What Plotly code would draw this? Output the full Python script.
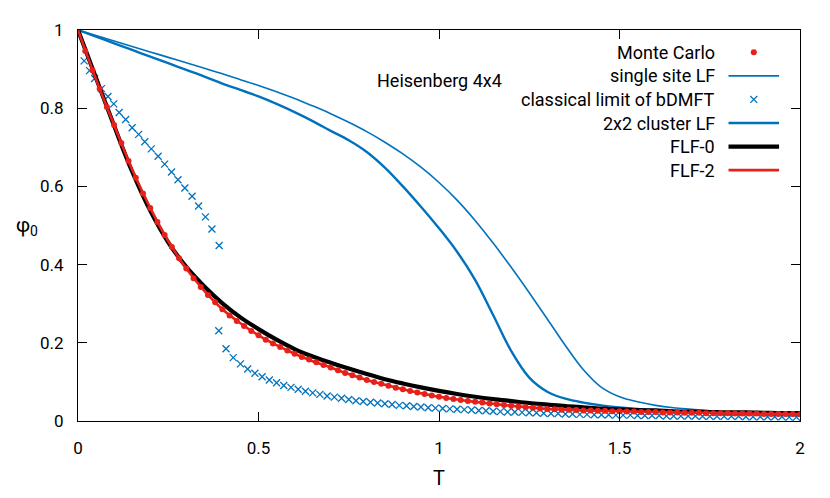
import plotly.graph_objects as go

# Monte Carlo data
T_mc = [0.02, 0.04, 0.06, 0.08, 0.10, 0.12, 0.14, 0.16, 0.18, 0.20,
        0.22, 0.24, 0.26, 0.28, 0.30, 0.32, 0.34, 0.36, 0.38, 0.40,
        0.42, 0.44, 0.46, 0.48, 0.50, 0.52, 0.54, 0.56, 0.58, 0.60,
        0.62, 0.64, 0.66, 0.68, 0.70, 0.72, 0.74, 0.76, 0.78, 0.80,
        0.82, 0.84, 0.86, 0.88, 0.90, 0.92, 0.94, 0.96, 0.98, 1.00,
        1.02, 1.04, 1.06, 1.08, 1.10, 1.12, 1.14, 1.16, 1.18, 1.20,
        1.22, 1.24, 1.26, 1.28, 1.30, 1.32, 1.34, 1.36, 1.38, 1.40,
        1.42, 1.44, 1.46, 1.48, 1.50, 1.52, 1.54, 1.56, 1.58, 1.60,
        1.62, 1.64, 1.66, 1.68, 1.70, 1.72, 1.74, 1.76, 1.78, 1.80,
        1.82, 1.84, 1.86, 1.88, 1.90, 1.92, 1.94, 1.96, 1.98, 2.00]
phi_mc = [0.946, 0.897, 0.850, 0.803, 0.757, 0.711, 0.665, 0.622, 0.582, 0.545,
          0.509, 0.476, 0.445, 0.416, 0.390, 0.365, 0.343, 0.322, 0.304, 0.286,
          0.270, 0.256, 0.243, 0.230, 0.219, 0.208, 0.198, 0.189, 0.180, 0.172,
          0.164, 0.157, 0.150, 0.143, 0.137, 0.130, 0.123, 0.117, 0.111, 0.105,
          0.100, 0.095, 0.090, 0.085, 0.081, 0.077, 0.073, 0.069, 0.065, 0.062,
          0.059, 0.056, 0.054, 0.051, 0.049, 0.047, 0.045, 0.043, 0.041, 0.039,
          0.037, 0.035, 0.034, 0.032, 0.031, 0.030, 0.029, 0.029, 0.028, 0.027,
          0.027, 0.026, 0.026, 0.025, 0.025, 0.024, 0.024, 0.023, 0.023, 0.023,
          0.022, 0.022, 0.022, 0.021, 0.021, 0.021, 0.020, 0.020, 0.020, 0.020,
          0.019, 0.019, 0.019, 0.019, 0.018, 0.018, 0.018, 0.018, 0.018, 0.017]

# common T grid for the model curves
T_line = [0.00, 0.05, 0.10, 0.15, 0.20, 0.25, 0.30, 0.35, 0.40, 0.45,
          0.50, 0.55, 0.60, 0.65, 0.70, 0.75, 0.80, 0.85, 0.90, 0.95,
          1.00, 1.05, 1.10, 1.15, 1.20, 1.25, 1.30, 1.35, 1.40, 1.45,
          1.50, 1.55, 1.60, 1.65, 1.70, 1.75, 1.80, 1.85, 1.90, 1.95, 2.00]

# single site LF
phi_ss = [1.000, 0.986, 0.972, 0.958, 0.944, 0.930, 0.916, 0.902, 0.888, 0.873,
          0.858, 0.842, 0.825, 0.806, 0.786, 0.764, 0.740, 0.713, 0.683, 0.649,
          0.610, 0.565, 0.513, 0.455, 0.393, 0.328, 0.261, 0.193, 0.131, 0.086,
          0.062, 0.049, 0.040, 0.034, 0.030, 0.026, 0.023, 0.021, 0.019, 0.017, 0.016]

# 2x2 cluster LF
phi_cl = [1.000, 0.983, 0.966, 0.949, 0.932, 0.915, 0.898, 0.881, 0.863, 0.847,
          0.830, 0.811, 0.790, 0.767, 0.742, 0.718, 0.688, 0.648, 0.600, 0.548,
          0.493, 0.433, 0.361, 0.271, 0.179, 0.111, 0.075, 0.057, 0.047, 0.040,
          0.035, 0.031, 0.028, 0.025, 0.023, 0.021, 0.019, 0.018, 0.016, 0.015, 0.014]

# FLF-0
phi_f0 = [1.000, 0.877, 0.755, 0.638, 0.538, 0.457, 0.394, 0.344, 0.301, 0.265,
          0.235, 0.208, 0.184, 0.165, 0.149, 0.134, 0.120, 0.107, 0.096, 0.086,
          0.077, 0.069, 0.062, 0.056, 0.051, 0.046, 0.042, 0.038, 0.035, 0.032,
          0.030, 0.028, 0.027, 0.025, 0.024, 0.023, 0.022, 0.022, 0.021, 0.020, 0.020]

# FLF-2
phi_f2 = [1.000, 0.874, 0.757, 0.643, 0.545, 0.460, 0.390, 0.333, 0.286, 0.250,
          0.219, 0.194, 0.172, 0.153, 0.137, 0.120, 0.105, 0.093, 0.081, 0.071,
          0.062, 0.055, 0.049, 0.044, 0.039, 0.035, 0.031, 0.029, 0.027, 0.026,
          0.025, 0.024, 0.023, 0.022, 0.021, 0.021, 0.020, 0.019, 0.018, 0.018, 0.017]

# classical limit of bDMFT (two branches)
T_bd_hi = [0.017, 0.032, 0.046, 0.065, 0.083, 0.099, 0.114, 0.132, 0.150, 0.168, 0.185,
           0.203, 0.222, 0.240, 0.259, 0.277, 0.296, 0.316, 0.334, 0.353, 0.371, 0.391]
phi_bd_hi = [0.921, 0.896, 0.876, 0.850, 0.830, 0.811, 0.789, 0.771, 0.750, 0.733, 0.714,
             0.696, 0.677, 0.657, 0.637, 0.617, 0.596, 0.575, 0.550, 0.522, 0.491, 0.449]
T_bd_lo = [0.39, 0.41, 0.43, 0.45, 0.47, 0.49, 0.51, 0.53, 0.55, 0.57,
           0.59, 0.61, 0.63, 0.65, 0.67, 0.69, 0.71, 0.73, 0.75, 0.77,
           0.79, 0.81, 0.83, 0.85, 0.87, 0.89, 0.91, 0.93, 0.95, 0.97,
           0.99, 1.01, 1.03, 1.05, 1.07, 1.09, 1.11, 1.13, 1.15, 1.17,
           1.19, 1.21, 1.23, 1.25, 1.27, 1.29, 1.31, 1.33, 1.35, 1.37,
           1.39, 1.41, 1.43, 1.45, 1.47, 1.49, 1.51, 1.53, 1.55, 1.57,
           1.59, 1.61, 1.63, 1.65, 1.67, 1.69, 1.71, 1.73, 1.75, 1.77,
           1.79, 1.81, 1.83, 1.85, 1.87, 1.89, 1.91, 1.93, 1.95, 1.97, 1.99]
phi_bd_lo = [0.231, 0.185, 0.162, 0.146, 0.133, 0.122, 0.113, 0.105, 0.098, 0.091,
             0.086, 0.081, 0.076, 0.072, 0.068, 0.064, 0.061, 0.058, 0.055, 0.052,
             0.050, 0.048, 0.046, 0.044, 0.042, 0.040, 0.039, 0.037, 0.036, 0.034,
             0.033, 0.032, 0.031, 0.030, 0.029, 0.028, 0.027, 0.026, 0.025, 0.024,
             0.023, 0.023, 0.022, 0.021, 0.021, 0.020, 0.019, 0.019, 0.018, 0.018,
             0.017, 0.017, 0.016, 0.016, 0.016, 0.015, 0.015, 0.015, 0.014, 0.014,
             0.014, 0.014, 0.013, 0.013, 0.013, 0.013, 0.013, 0.012, 0.012, 0.012,
             0.012, 0.012, 0.012, 0.011, 0.011, 0.011, 0.011, 0.011, 0.011, 0.010, 0.010]

x_ticks = [0, 0.5, 1, 1.5, 2]
x_ticklabels = ["0", "0.5", "1", "1.5", "2"]
y_ticks = [0, 0.2, 0.4, 0.6, 0.8, 1]
y_ticklabels = ["0", "0.2", "0.4", "0.6", "0.8", "1"]

BLUE = "#0072bd"
RED = "#e8201a"
FONT = "Roboto, 'Noto Sans', sans-serif"
TXT = 18

fig = go.Figure()
fig.add_trace(go.Scatter(x=T_line, y=phi_ss, mode="lines",
                         line=dict(color=BLUE, width=1.6, shape="spline", smoothing=1)))
fig.add_trace(go.Scatter(x=T_bd_hi + T_bd_lo, y=phi_bd_hi + phi_bd_lo, mode="markers",
                         marker=dict(symbol="x-thin", size=7, line=dict(color=BLUE, width=1.3))))
fig.add_trace(go.Scatter(x=T_line, y=phi_cl, mode="lines",
                         line=dict(color=BLUE, width=2.4, shape="spline", smoothing=1)))
fig.add_trace(go.Scatter(x=T_line, y=phi_f0, mode="lines",
                         line=dict(color="black", width=4.2, shape="spline", smoothing=1)))
fig.add_trace(go.Scatter(x=T_line, y=phi_f2, mode="lines",
                         line=dict(color=RED, width=2.6, shape="spline", smoothing=1)))
fig.add_trace(go.Scatter(x=T_mc, y=phi_mc, mode="markers", marker=dict(color=RED, size=6, line=dict(width=0))))

# gnuplot-style key: text right-aligned, sample to the right of it
key_rows = [("Monte Carlo", "dot", RED, 0), ("single site LF", "line", BLUE, 1.6),
            ("classical limit of bDMFT", "cross", BLUE, 1.3), ("2x2 cluster LF", "line", BLUE, 2.4),
            ("FLF-0", "line", "black", 4.2), ("FLF-2", "line", RED, 2.6)]
key_top, key_step = 0.943, 0.0603
text_x, s0, s1 = 0.885, 0.901, 0.971
sc = (s0 + s1) / 2
for i, (name, kind, color, w) in enumerate(key_rows):
    yk = key_top - i * key_step
    fig.add_annotation(x=text_x, y=yk, xref="paper", yref="paper", text=name, showarrow=False,
                       xanchor="right", yanchor="middle", font=dict(size=TXT, color="black", family=FONT))
    if kind == "line":
        fig.add_shape(type="line", xref="paper", yref="paper", x0=s0, x1=s1, y0=yk, y1=yk,
                      line=dict(color=color, width=w))
    elif kind == "dot":
        fig.add_shape(type="circle", xref="paper", yref="paper", x0=sc - 0.0042, x1=sc + 0.0042,
                      y0=yk - 0.0075, y1=yk + 0.0075, fillcolor=color, line=dict(width=0))
    else:
        dx, dy = 0.0048, 0.0088
        fig.add_shape(type="line", xref="paper", yref="paper", x0=sc - dx, x1=sc + dx, y0=yk - dy, y1=yk + dy,
                      line=dict(color=color, width=w))
        fig.add_shape(type="line", xref="paper", yref="paper", x0=sc - dx, x1=sc + dx, y0=yk + dy, y1=yk - dy,
                      line=dict(color=color, width=w))

fig.add_annotation(x=1.0, y=0.872, text="Heisenberg 4x4", showarrow=False, xanchor="center", yanchor="middle",
                   font=dict(size=TXT, color="black", family=FONT))
fig.add_annotation(x=-0.071, y=0.5, xref="paper", yref="paper", text="φ<sub>0</sub>", showarrow=False,
                   xanchor="center", yanchor="middle", font=dict(size=20, color="black", family=FONT))
fig.add_annotation(x=0.5, y=-0.146, xref="paper", yref="paper", text="T", showarrow=False,
                   xanchor="center", yanchor="middle", font=dict(size=20, color="black", family=FONT))

axis_style = dict(showgrid=False, zeroline=False, showline=True, linecolor="black", linewidth=1,
                  mirror="ticks", ticks="inside", ticklen=9, tickwidth=1, tickcolor="black",
                  tickfont=dict(size=17, color="black", family=FONT))
fig.update_xaxes(range=[0, 2], tickvals=x_ticks, ticktext=x_ticklabels, ticklabelstandoff=12, **axis_style)
fig.update_yaxes(range=[0, 1], tickvals=y_ticks, ticktext=y_ticklabels, ticklabelstandoff=10, **axis_style)

# page body has an 8px margin, so the figure is sized to fit inside the window
fig.update_layout(
    width=814, height=482,
    margin=dict(l=70, r=22, t=14, b=69),
    paper_bgcolor="white", plot_bgcolor="white",
    showlegend=False,
    font=dict(family=FONT),
)

fig.write_html("out.html")
